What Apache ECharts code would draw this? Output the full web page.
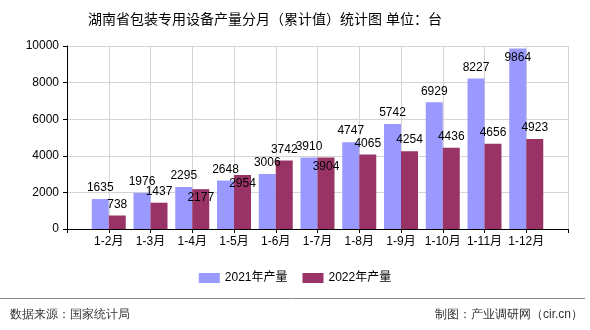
<!DOCTYPE html>
<html>
<head>
<meta charset="utf-8">
<script src="https://cdn.jsdelivr.net/npm/echarts@6/dist/echarts.min.js"></script>
<style>
  html, body { margin: 0; padding: 0; background: #fff; }
  #chart { width: 590px; height: 330px; }
</style>
</head>
<body>
<div id="chart"></div>
<script>
// Monthly cumulative output, units: 台
const months = ['1-2月', '1-3月', '1-4月', '1-5月', '1-6月', '1-7月', '1-8月', '1-9月', '1-10月', '1-11月', '1-12月'];
const output2021 = [1635, 1976, 2295, 2648, 3006, 3910, 4747, 5742, 6929, 8227, 9864];
const output2022 = [738, 1437, 2177, 2954, 3742, 3904, 4065, 4254, 4436, 4656, 4923];
const yTicks = [0, 2000, 4000, 6000, 8000, 10000];

// Label placement per bar (kept apart from values)
const labelPos2021 = ['top', 'top', 'top', 'top', 'top', 'top', 'top', 'top', 'top', 'top', 'insideTop'];
const labelPos2022 = ['top', 'top', 'insideTop', 'insideTop', 'top', 'insideTop', 'top', 'top', 'top', 'top', 'top'];

const FONT = '"Liberation Sans", "Noto Sans CJK SC", sans-serif';

// Pad the axis with an empty slot at each end so the bars sit on grid lines
const axisCats = [''].concat(months, ['']);
function padded(values, positions) {
  return [null].concat(values.map((v, i) => ({
    value: v,
    label: { position: positions[i], distance: positions[i] === 'insideTop' ? 3 : 5 }
  })), [null]);
}

const chart = echarts.init(document.getElementById('chart'), null, { renderer: 'canvas' });
chart.setOption({
  animation: false,
  textStyle: { fontFamily: FONT },
  title: {
    text: '湖南省包装专用设备产量分月（累计值）统计图 单位：台',
    left: 260, top: 8, textAlign: 'center',
    textStyle: { fontSize: 14, fontWeight: 'normal', color: '#000', fontFamily: FONT }
  },
  grid: { left: 67, right: 22, top: 46, bottom: 101, containLabel: false },
  legend: {
    bottom: 41, left: 'center',
    icon: 'rect',
    itemWidth: 21, itemHeight: 10, itemGap: 15,
    textStyle: { fontSize: 12, color: '#000', fontFamily: FONT },
    data: ['2021年产量', '2022年产量']
  },
  xAxis: {
    type: 'category',
    data: axisCats,
    boundaryGap: false,
    axisLine: { lineStyle: { color: '#000', width: 1 } },
    axisTick: { show: true, interval: 0, length: 4, lineStyle: { color: '#000' } },
    axisLabel: { interval: 0, fontSize: 12, color: '#000', margin: 7, fontFamily: FONT },
    splitLine: { show: true, interval: 0, lineStyle: { color: '#d4d4d4', width: 1 } }
  },
  yAxis: {
    type: 'value',
    min: yTicks[0], max: yTicks[yTicks.length - 1], interval: 2000,
    axisLine: { show: true, lineStyle: { color: '#000', width: 1 } },
    axisTick: { show: true, length: 4, lineStyle: { color: '#000' } },
    axisLabel: { fontSize: 12, color: '#000', margin: 8, fontFamily: FONT, formatter: v => String(v) },
    splitLine: { show: true, lineStyle: { color: '#d4d4d4', width: 1 } }
  },
  series: [
    {
      name: '2021年产量', type: 'bar',
      data: padded(output2021, labelPos2021),
      barWidth: 17, barGap: '0%',
      itemStyle: { color: '#9999ff' },
      label: { show: true, color: '#000', fontSize: 12, fontFamily: FONT }
    },
    {
      name: '2022年产量', type: 'bar',
      data: padded(output2022, labelPos2022),
      barWidth: 17, barGap: '0%',
      itemStyle: { color: '#993366' },
      label: { show: true, color: '#000', fontSize: 12, fontFamily: FONT }
    }
  ],
  graphic: [
    { type: 'line', shape: { x1: 0, y1: 298.5, x2: 585, y2: 298.5 }, style: { stroke: '#888', lineWidth: 1 } },
    { type: 'text', left: 10, top: 309, style: { text: '数据来源：国家统计局', fontSize: 12, fill: '#333', font: '12px "Noto Sans CJK SC", sans-serif' } },
    { type: 'text', right: 7, top: 309, style: { text: '制图：产业调研网（cir.cn）', fontSize: 12, fill: '#333', font: '12px "Noto Sans CJK SC", sans-serif' } }
  ]
});
</script>
</body>
</html>
